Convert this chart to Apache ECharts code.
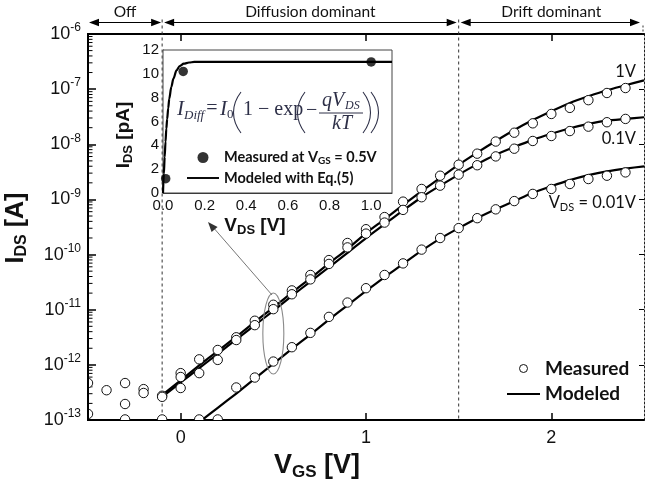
<!DOCTYPE html>
<html><head><meta charset="utf-8">
<script src="https://cdn.jsdelivr.net/npm/echarts@6/dist/echarts.min.js"></script>
<style>html,body{margin:0;padding:0;background:#fff}#c{width:645px;height:486px}</style>
</head><body><div id="c"></div>
<script>
// ---------- data (currents as log10(I/A)) ----------
const VGS_meas = [-0.5,-0.4,-0.3,-0.2,-0.1,0.0,0.1,0.2,0.3,0.4,0.5,0.6,0.7,0.8,0.9,1.0,1.1,1.2,1.3,1.4,1.5,1.6,1.7,1.8,1.9,2.0,2.1,2.2,2.3,2.4];
const meas1V_log   = [-12.33,-12.46,-12.33,-12.44,-12.56,-12.15,-11.90,-11.73,-11.50,-11.20,-10.91,-10.65,-10.37,-10.10,-9.79,-9.54,-9.32,-9.04,-8.81,-8.57,-8.37,-8.17,-7.95,-7.79,-7.62,-7.45,-7.34,-7.20,-7.07,-6.98];
const meas01V_log  = [-12.89,-13.25,-12.71,-12.51,-12.58,-12.22,-12.15,-11.91,-11.55,-11.28,-10.99,-10.72,-10.45,-10.17,-9.87,-9.62,-9.42,-9.19,-8.96,-8.75,-8.55,-8.38,-8.22,-8.08,-7.94,-7.85,-7.76,-7.68,-7.60,-7.54];
const meas001V_log = [-13.25,-13.25,-12.99,-13.25,-12.99,-12.42,-12.99,-12.99,-12.41,-12.23,-11.94,-11.68,-11.42,-11.13,-10.87,-10.61,-10.37,-10.16,-9.91,-9.70,-9.52,-9.34,-9.18,-9.03,-8.90,-8.81,-8.72,-8.63,-8.57,-8.51];

const VGS_model = [-0.1,0.0,0.1,0.2,0.3,0.4,0.5,0.6,0.7,0.8,0.9,1.0,1.1,1.2,1.3,1.4,1.5,1.6,1.7,1.8,1.9,2.0,2.1,2.2,2.3,2.4,2.5];
const model1V_log  = [-12.55,-12.28,-12.01,-11.75,-11.49,-11.22,-10.96,-10.69,-10.43,-10.16,-9.90,-9.61,-9.36,-9.10,-8.85,-8.61,-8.37,-8.15,-7.94,-7.74,-7.56,-7.40,-7.25,-7.13,-7.02,-6.93,-6.84];
const model01V_log = [-12.58,-12.32,-12.06,-11.80,-11.54,-11.28,-11.02,-10.75,-10.49,-10.23,-9.97,-9.70,-9.45,-9.20,-8.96,-8.75,-8.55,-8.36,-8.19,-8.05,-7.92,-7.81,-7.71,-7.63,-7.57,-7.54,-7.51];
const VGS_model001 = [0.1,0.2,0.3,0.4,0.5,0.6,0.7,0.8,0.9,1.0,1.1,1.2,1.3,1.4,1.5,1.6,1.7,1.8,1.9,2.0,2.1,2.2,2.3,2.4,2.5];
const model001V_log = [-13.04,-12.78,-12.52,-12.25,-11.98,-11.71,-11.45,-11.18,-10.92,-10.66,-10.41,-10.17,-9.93,-9.71,-9.52,-9.34,-9.18,-9.03,-8.88,-8.76,-8.65,-8.56,-8.49,-8.44,-8.40];

const xTickValues = [0, 1, 2];
const yExpMin = -13, yExpMax = -6;

// inset (I_DS in pA vs V_DS in V)
const insetVDS_meas = [0.013, 0.097, 1.0];
const insetIDS_meas = [1.2, 10.2, 11.0];
const insetVDS_model = [0,0.004,0.008,0.012,0.016,0.02,0.025,0.03,0.04,0.05,0.065,0.08,0.1,0.125,0.15,0.2,0.4,0.6,0.8,1.0,1.1];
const insetIDS_model = [0,1.6,3.0,4.3,5.4,6.2,7.1,7.9,8.9,9.6,10.3,10.65,10.85,10.95,11.0,11.0,11.0,11.0,11.0,11.0,11.0];
const insetXTicks = [0,0.2,0.4,0.6,0.8,1.0];

// ---------- helpers ----------
const pairs = (xs, ls) => xs.map((x, i) => [x, Math.pow(10, ls[i])]);
const minorTicks = [];
for (let e = yExpMin; e < yExpMax; e++) for (let k = 2; k <= 9; k++) minorTicks.push([-0.5, k * Math.pow(10, e)]);

const SANS = 'Liberation Sans';
const CAL = 'Lato';
const LINE_ICON = 'path://M0,0H40V2.4H0Z';
const chart = echarts.init(document.getElementById('c'), null, {renderer: 'canvas'});

function measSeries(ls) {
  return {
    type: 'custom', name: 'Measured', xAxisIndex: 0, yAxisIndex: 0, clip: true, z: 4,
    data: pairs(VGS_meas, ls),
    renderItem: (p, api) => {
      const c = api.coord([api.value(0), api.value(1)]);
      return {type: 'circle', shape: {cx: c[0], cy: c[1], r: 4.7}, style: {fill: '#fff', stroke: '#111', lineWidth: 1}};
    }
  };
}
function modelSeries(xs, ls) {
  return {
    type: 'line', name: 'Modeled', xAxisIndex: 0, yAxisIndex: 0, data: pairs(xs, ls),
    symbol: 'none', showSymbol: false, smooth: 0.2, z: 2, clip: true,
    itemStyle: {color: '#000'}, lineStyle: {color: '#000', width: 2.2}, silent: true
  };
}

const option = {
  animation: false,
  backgroundColor: '#fff',
  grid: [
    {left: 88, right: 1, top: 34, bottom: 66, outerBoundsMode: 'none'},
    {left: 163, right: 253, top: 50, bottom: 293, show: true, backgroundColor: '#fff', borderColor: '#444', borderWidth: 1, z: 5, outerBoundsMode: 'none'}
  ],
  legend: [
    {
      data: [
        {name: 'Measured', icon: 'circle', itemStyle: {color: '#fff', borderColor: '#111', borderWidth: 1}},
        {name: 'Modeled', icon: LINE_ICON, itemStyle: {color: '#000', borderWidth: 0}}
      ],
      orient: 'vertical', left: 507, top: 359, padding: 0, itemWidth: 33, itemHeight: 8, itemGap: 6.5,
      selectedMode: false,
      textStyle: {fontFamily: CAL, fontWeight: 'bold', fontSize: 19, color: '#111'}
    },
    {
      data: [
        {name: 'Measured at VGS = 0.5V', icon: 'circle', itemStyle: {color: '#000'}},
        {name: 'Modeled with Eq.(5)', icon: LINE_ICON, itemStyle: {color: '#000', borderWidth: 0}}
      ],
      orient: 'vertical', left: 187, top: 150, padding: 0, itemWidth: 32, itemHeight: 11, itemGap: 5,
      selectedMode: false, z: 8,
      formatter: n => n.indexOf('VGS') >= 0 ? '{b|Measured at V}{s|GS}{b| = 0.5V}' : '{b|' + n + '}',
      textStyle: {fontFamily: CAL, fontWeight: 'bold', fontSize: 14.5, color: '#111',
        rich: {b: {fontFamily: CAL, fontWeight: 'bold', fontSize: 14.5, color: '#111'},
               s: {fontFamily: CAL, fontWeight: 'bold', fontSize: 10, color: '#111', verticalAlign: 'bottom', padding: [6, 0, 0, 0]}}}
    }
  ],
  xAxis: [
    {gridIndex: 0, type: 'value', min: -0.5, max: 2.5, position: 'bottom',
      axisLine: {show: true, onZero: false, lineStyle: {color: '#000', width: 2}},
      axisTick: {show: true, inside: true, length: 7, customValues: xTickValues, lineStyle: {color: '#000', width: 1.5}},
      axisLabel: {show: true, customValues: xTickValues, margin: 9, fontFamily: SANS, fontSize: 18, color: '#111'},
      splitLine: {show: false}},
    {gridIndex: 0, type: 'value', min: -0.5, max: 2.5, position: 'top',
      axisLine: {show: true, onZero: false, lineStyle: {color: '#000', width: 2}},
      axisTick: {show: true, inside: true, length: 7, customValues: xTickValues, lineStyle: {color: '#000', width: 1.5}},
      axisLabel: {show: false}, splitLine: {show: false}},
    {gridIndex: 1, type: 'value', min: 0, max: 1.1,
      axisLine: {show: true, onZero: false, lineStyle: {color: '#333', width: 1}},
      axisTick: {show: false},
      axisLabel: {customValues: insetXTicks, formatter: v => v.toFixed(1), margin: 5, fontFamily: SANS, fontSize: 15, color: '#111'},
      splitLine: {show: false}}
  ],
  yAxis: [
    {gridIndex: 0, type: 'log', logBase: 10, min: Math.pow(10, yExpMin), max: Math.pow(10, yExpMax), splitNumber: 7, position: 'left',
      axisLine: {show: true, onZero: false, lineStyle: {color: '#000', width: 2}},
      axisTick: {show: true, inside: true, length: 8, lineStyle: {color: '#000', width: 1.5}},
      axisLabel: {margin: 7, formatter: v => '{b|10}{s|' + Math.round(Math.log10(v)) + '}',
        rich: {b: {fontFamily: SANS, fontSize: 18, color: '#111', lineHeight: 24},
               s: {fontFamily: SANS, fontSize: 12, color: '#111', verticalAlign: 'top', lineHeight: 12}}},
      splitLine: {show: false}},
    {gridIndex: 0, type: 'log', logBase: 10, min: Math.pow(10, yExpMin), max: Math.pow(10, yExpMax), splitNumber: 7, position: 'right',
      axisLine: {show: true, onZero: false, lineStyle: {color: '#222', width: 1, type: [2, 2]}},
      axisTick: {show: true, inside: true, length: 5, lineStyle: {color: '#000', width: 1}},
      axisLabel: {show: false}, splitLine: {show: false}},
    {gridIndex: 1, type: 'value', min: 0, max: 12, interval: 2,
      axisLine: {show: true, onZero: false, lineStyle: {color: '#333', width: 1}},
      axisTick: {show: false},
      axisLabel: {margin: 4, fontFamily: SANS, fontSize: 15, color: '#111'},
      splitLine: {show: false}}
  ],
  series: [
    modelSeries(VGS_model, model1V_log),
    modelSeries(VGS_model, model01V_log),
    modelSeries(VGS_model001, model001V_log),
    measSeries(meas1V_log),
    measSeries(meas01V_log),
    measSeries(meas001V_log),
    {type: 'custom', name: 'minorTicks', xAxisIndex: 0, yAxisIndex: 0, silent: true, z: 3, data: minorTicks,
      renderItem: (p, api) => {
        const c = api.coord([api.value(0), api.value(1)]);
        return {type: 'line', shape: {x1: c[0], y1: c[1], x2: c[0] + 4.5, y2: c[1]}, style: {stroke: '#000', lineWidth: 1}};
      }},
    {type: 'line', name: 'Modeled with Eq.(5)', xAxisIndex: 2, yAxisIndex: 2, z: 6,
      data: insetVDS_model.map((v, i) => [v, insetIDS_model[i]]), symbol: 'none', smooth: 0.3, smoothMonotone: 'x',
      itemStyle: {color: '#000'}, lineStyle: {color: '#000', width: 2.2}},
    {type: 'scatter', name: 'Measured at VGS = 0.5V', xAxisIndex: 2, yAxisIndex: 2, z: 7,
      data: insetVDS_meas.map((v, i) => [v, insetIDS_meas[i]]), symbol: 'circle', symbolSize: 9.5,
      itemStyle: {color: '#000'}}
  ]
};
chart.setOption(option);

// ---------- annotations ----------
const px = (x, y) => chart.convertToPixel({xAxisIndex: 0, yAxisIndex: 0}, [x, y]);
const xL = px(-0.5, 1e-13)[0], xOff = px(-0.1, 1e-13)[0], xDr = px(1.5, 1e-13)[0], xR = px(2.5, 1e-13)[0];
const yBot = px(0, 1e-13)[1], yTop = px(0, 1e-6)[1];
const aY = 22.5;
function arrowHead(x, y, dir) { // dir: -1 left, +1 right
  return {type: 'polygon', shape: {points: [[x, y], [x - dir * 10, y - 3.8], [x - dir * 10, y + 3.8]]}, style: {fill: '#000'}, z: 10};
}
function dblArrow(x1, x2) {
  return [
    {type: 'line', shape: {x1: x1 + 4, y1: aY, x2: x2 - 4, y2: aY}, style: {stroke: '#000', lineWidth: 1.2}, z: 10},
    arrowHead(x1, aY, -1), arrowHead(x2, aY, 1)
  ];
}
const ell = px(0.5, Math.pow(10, -11.43));
const EQC = '#2e3048';
const SER = 'Liberation Serif';
const eqText = (t, x, y, size, italic, align) => ({type: 'text', z: 12, x, y,
  style: {text: t, fontFamily: SER, fontSize: size, fontStyle: italic ? 'italic' : 'normal', fill: EQC, align: align || 'left', verticalAlign: 'middle'}});
const paren = (x0, xc) => ({type: 'bezierCurve', z: 12, shape: {x1: x0, y1: 92, cpx1: xc, cpy1: 105, cpx2: xc, cpy2: 120, x2: x0, y2: 133},
  style: {stroke: EQC, lineWidth: 1.1, fill: 'none'}});

const graphics = [
  // left frame line (same place as the y axis line)
  {type: 'line', z: 11, shape: {x1: xL, y1: yTop - 1, x2: xL, y2: yBot + 1}, style: {stroke: '#000', lineWidth: 2}},
  ...dblArrow(xL + 1, xOff - 1), ...dblArrow(xOff + 2, xDr - 2), ...dblArrow(xDr + 2, xR - 4),
  {type: 'text', z: 10, x: (xL + xOff) / 2, y: 12, style: {text: 'Off', fontFamily: CAL, fontSize: 15.5, fill: '#111', align: 'center', verticalAlign: 'middle'}},
  {type: 'text', z: 10, x: (xOff + xDr) / 2, y: 12, style: {text: 'Diffusion dominant', fontFamily: CAL, fontSize: 15.5, fill: '#111', align: 'center', verticalAlign: 'middle'}},
  {type: 'text', z: 10, x: (xDr + xR) / 2, y: 12, style: {text: 'Drift dominant', fontFamily: CAL, fontSize: 15.5, fill: '#111', align: 'center', verticalAlign: 'middle'}},
  {type: 'line', z: 1, shape: {x1: xOff, y1: aY - 3, x2: xOff, y2: yBot}, style: {stroke: '#333', lineWidth: 1, lineDash: [3, 3]}},
  {type: 'line', z: 1, shape: {x1: xDr, y1: aY - 3, x2: xDr, y2: yBot}, style: {stroke: '#333', lineWidth: 1, lineDash: [3, 3]}},
  {type: 'line', z: 1, shape: {x1: xR - 1, y1: aY + 3, x2: xR - 1, y2: yTop}, style: {stroke: '#333', lineWidth: 1, lineDash: [2, 2]}},
  // ellipse + pointer arrow
  {type: 'ellipse', z: 9, shape: {cx: ell[0], cy: ell[1], rx: 10.5, ry: 40.5}, style: {stroke: '#8a8a8a', lineWidth: 1.1, fill: 'none'}},
  {type: 'line', z: 9, shape: {x1: 272, y1: 295, x2: 212, y2: 226}, style: {stroke: '#777', lineWidth: 1}},
  {type: 'polygon', z: 9, shape: {points: [[208, 222], [217.6, 226.9], [211.6, 232.1]]}, style: {fill: '#333'}},
  // curve labels
  {type: 'text', z: 10, x: 636, y: 72, style: {text: '1V', fontFamily: CAL, fontSize: 16.5, fill: '#111', align: 'right', verticalAlign: 'middle'}},
  {type: 'text', z: 10, x: 636, y: 139, style: {text: '0.1V', fontFamily: CAL, fontSize: 16.5, fill: '#111', align: 'right', verticalAlign: 'middle'}},
  {type: 'text', z: 10, x: 636, y: 203, style: {text: '{a|V}{s|DS}{a| = 0.01V}', align: 'right', verticalAlign: 'middle',
    rich: {a: {fontFamily: CAL, fontSize: 16.5, fill: '#111'}, s: {fontFamily: CAL, fontSize: 11, fill: '#111', verticalAlign: 'bottom', padding: [8, 0, 0, 0]}}}},
  // axis titles
  {type: 'text', z: 10, x: 317, y: 466, style: {text: '{m|V}{s|GS}{m| [V]}', align: 'center', verticalAlign: 'middle',
    rich: {m: {fontFamily: SANS, fontWeight: 'bold', fontSize: 27, fill: '#111'}, s: {fontFamily: SANS, fontWeight: 'bold', fontSize: 17, fill: '#111', verticalAlign: 'bottom', padding: [13, 0, 0, 0]}}}},
  {type: 'text', z: 10, x: 16, y: 228, rotation: Math.PI / 2, style: {text: '{m|I}{s|DS}{m| [A]}', align: 'center', verticalAlign: 'middle',
    rich: {m: {fontFamily: SANS, fontWeight: 'bold', fontSize: 25, fill: '#111'}, s: {fontFamily: SANS, fontWeight: 'bold', fontSize: 16, fill: '#111', verticalAlign: 'bottom', padding: [12, 0, 0, 0]}}}},
  {type: 'text', z: 10, x: 255, y: 226, style: {text: '{m|V}{s|DS}{m| [V]}', align: 'center', verticalAlign: 'middle',
    rich: {m: {fontFamily: SANS, fontWeight: 'bold', fontSize: 19, fill: '#111'}, s: {fontFamily: SANS, fontWeight: 'bold', fontSize: 13, fill: '#111', verticalAlign: 'bottom', padding: [9, 0, 0, 0]}}}},
  {type: 'text', z: 10, x: 124, y: 135, rotation: Math.PI / 2, style: {text: '{m|I}{s|DS}{m| [pA]}', align: 'center', verticalAlign: 'middle',
    rich: {m: {fontFamily: SANS, fontWeight: 'bold', fontSize: 19, fill: '#111'}, s: {fontFamily: SANS, fontWeight: 'bold', fontSize: 13, fill: '#111', verticalAlign: 'bottom', padding: [9, 0, 0, 0]}}}},
  // equation I_Diff = I_0 (1 - exp(- qV_DS / kT))
  eqText('I', 177, 109, 21, true),
  eqText('Diff', 184, 116, 13, true),
  eqText('=', 212, 109, 20, false, 'center'),
  eqText('I', 220, 109, 21, true),
  eqText('0', 227, 115, 13, false),
  paren(241, 231),
  eqText('1 \u2212 exp', 243, 110, 20, false),
  paren(305, 295),
  eqText('\u2212', 306, 111, 20, false),
  eqText('qV', 322, 101, 20, true),
  eqText('DS', 345, 106, 12, true),
  {type: 'line', z: 12, shape: {x1: 319, y1: 113, x2: 363, y2: 113}, style: {stroke: EQC, lineWidth: 1}},
  eqText('kT', 342, 124, 20, true, 'center'),
  paren(363, 373),
  paren(371, 381)
];
chart.setOption({graphic: graphics});
</script></body></html>
